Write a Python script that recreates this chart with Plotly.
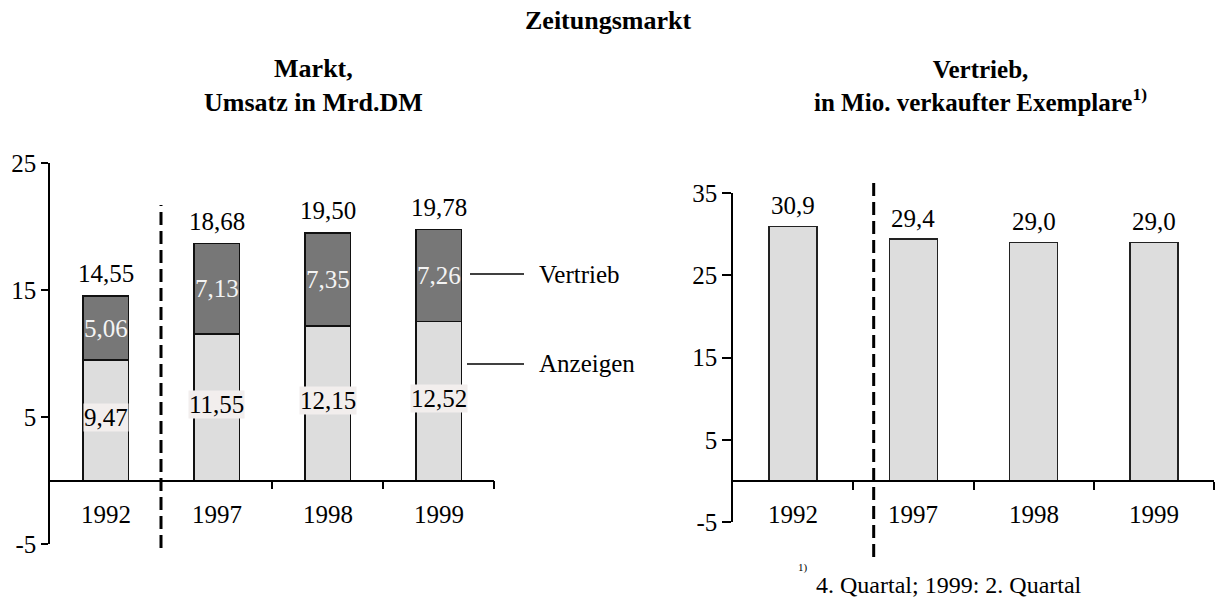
import plotly.graph_objects as go

# ---------------- data ----------------
years = ["1992", "1997", "1998", "1999"]
anzeigen = [9.47, 11.55, 12.15, 12.52]
vertrieb_umsatz = [5.06, 7.13, 7.35, 7.26]
umsatz_total = [14.55, 18.68, 19.50, 19.78]
exemplare = [30.9, 29.4, 29.0, 29.0]

left_ticks = [-5, 5, 15, 25]
right_ticks = [-5, 5, 15, 25, 35]
left_range = [-5, 25]
right_range = [-5, 35]

# ---------------- layout helpers ----------------
W, H = 1216, 601
FONT = "Liberation Serif, Times New Roman, serif"


def px_x(p):
    return p / W


def px_y(p):
    return 1 - p / H


L_xdom = [px_x(50), px_x(494)]
L_ydom = [px_y(544), px_y(163)]
R_xdom = [px_x(733), px_x(1214)]
R_ydom = [px_y(522), px_y(193)]


def zero_pos(dom, rng):
    return dom[0] + (0 - rng[0]) / (rng[1] - rng[0]) * (dom[1] - dom[0])


def de(v, nd):
    return f"{v:.{nd}f}".replace(".", ",")


idx = list(range(len(years)))
LIGHT = "#dddddd"
DARK = "#777777"

fig = go.Figure()
fig.add_trace(go.Bar(x=idx, y=anzeigen, xaxis="x", yaxis="y", width=0.41,
                     marker=dict(color=LIGHT, line=dict(color="#111111", width=1.5)),
                     hoverinfo="skip", showlegend=False))
fig.add_trace(go.Bar(x=idx, y=vertrieb_umsatz, xaxis="x", yaxis="y", width=0.41,
                     marker=dict(color=DARK, line=dict(color="#111111", width=1.5)),
                     hoverinfo="skip", showlegend=False))
fig.add_trace(go.Bar(x=idx, y=exemplare, xaxis="x2", yaxis="y2", width=0.4,
                     marker=dict(color=LIGHT, line=dict(color="#222222", width=1.5)),
                     hoverinfo="skip", showlegend=False))

tickfont = dict(family=FONT, size=25, color="black")
bounds = [i + 0.5 for i in idx]

axis_common_x = dict(range=[-0.5, len(years) - 0.5], anchor="free", showline=True,
                     linecolor="black", linewidth=1.5, ticks="outside", tickvals=bounds,
                     ticklen=8, tickwidth=1.5, tickcolor="black", showticklabels=False,
                     showgrid=False, zeroline=False, fixedrange=True, automargin=False)

axis_common_y = dict(showline=True, linecolor="black", linewidth=1.5, ticks="outside",
                     tickwidth=1.5, tickcolor="black", tickfont=tickfont,
                     showgrid=False, zeroline=False, fixedrange=True, automargin=False)

fig.update_layout(
    width=W, height=H,
    margin=dict(l=0, r=0, t=0, b=0, pad=0),
    paper_bgcolor="white", plot_bgcolor="rgba(0,0,0,0)",
    barmode="stack", showlegend=False,
    xaxis=dict(domain=L_xdom, position=zero_pos(L_ydom, left_range), **axis_common_x),
    yaxis=dict(domain=L_ydom, range=left_range, anchor="x", ticklen=7,
               tickvals=left_ticks, ticktext=[str(t) for t in left_ticks], **axis_common_y),
    xaxis2=dict(domain=R_xdom, position=zero_pos(R_ydom, right_range), **axis_common_x),
    yaxis2=dict(domain=R_ydom, range=right_range, anchor="x2", ticklen=9,
                tickvals=right_ticks, ticktext=[str(t) for t in right_ticks], **axis_common_y),
)

ann = []
lblfont = dict(family=FONT, size=25, color="black")

# year labels
for xr, yr in (("x", "y"), ("x2", "y2")):
    for i, yname in zip(idx, years):
        ann.append(dict(x=i, y=0, xref=xr, yref=yr, text=yname, showarrow=False,
                        yshift=-34, font=lblfont))

# left chart labels
for i in idx:
    ann.append(dict(x=i, y=umsatz_total[i], xref="x", yref="y", text=de(umsatz_total[i], 2),
                    showarrow=False, yshift=22, font=lblfont))
    ann.append(dict(x=i, y=anzeigen[i] / 2, xref="x", yref="y", text=de(anzeigen[i], 2),
                    showarrow=False, yshift=3, font=lblfont, bgcolor="#f2eeed", borderpad=0))
    ann.append(dict(x=i, y=anzeigen[i] + vertrieb_umsatz[i] / 2, xref="x", yref="y",
                    text=de(vertrieb_umsatz[i], 2), showarrow=False,
                    font=dict(family=FONT, size=25, color="#f4f4f4")))

# right chart labels
for i in idx:
    ann.append(dict(x=i, y=exemplare[i], xref="x2", yref="y2", text=de(exemplare[i], 1),
                    showarrow=False, yshift=21, font=lblfont))

# legend labels (left chart)
ann.append(dict(x=px_x(537), y=px_y(274), xref="paper", yref="paper", text="Vertrieb",
                xanchor="left", yanchor="middle", showarrow=False, font=lblfont))
ann.append(dict(x=px_x(537), y=px_y(363), xref="paper", yref="paper", text="Anzeigen",
                xanchor="left", yanchor="middle", showarrow=False, font=lblfont))

# titles
ann.append(dict(x=px_x(608), y=px_y(21), xref="paper", yref="paper",
                text="<b>Zeitungsmarkt</b>", showarrow=False,
                font=dict(family=FONT, size=26, color="black"),
                xanchor="center", yanchor="middle"))
ann.append(dict(x=px_x(313), y=px_y(86), xref="paper", yref="paper",
                text="<b>Markt,</b><br><b>Umsatz in Mrd.DM</b>", showarrow=False,
                font=dict(family=FONT, size=26, color="black"),
                xanchor="center", yanchor="middle"))
ann.append(dict(x=px_x(980), y=px_y(86), xref="paper", yref="paper",
                text="<b>Vertrieb,</b><br><b>in Mio. verkaufter Exemplare<sup>1)</sup></b>",
                showarrow=False, font=dict(family=FONT, size=25, color="black"),
                xanchor="center", yanchor="middle"))

# footnote
ann.append(dict(x=px_x(796), y=px_y(567), xref="paper", yref="paper", text="1)",
                showarrow=False, xanchor="left", yanchor="middle",
                font=dict(family=FONT, size=11, color="black")))
ann.append(dict(x=px_x(814), y=px_y(585), xref="paper", yref="paper",
                text="4. Quartal; 1999: 2. Quartal", showarrow=False,
                xanchor="left", yanchor="middle",
                font=dict(family=FONT, size=24, color="black")))

fig.update_layout(annotations=ann)

# shapes: legend lines and dashed dividers
shapes = [
    dict(type="line", xref="paper", yref="paper", x0=px_x(470), x1=px_x(524),
         y0=px_y(274), y1=px_y(274), line=dict(color="black", width=1.5)),
    dict(type="line", xref="paper", yref="paper", x0=px_x(467), x1=px_x(524),
         y0=px_y(364), y1=px_y(364), line=dict(color="black", width=1.5)),
    dict(type="line", xref="x", yref="paper", x0=0.5, x1=0.5,
         y0=px_y(548), y1=px_y(205), line=dict(color="black", width=3, dash="13px,6px")),
    dict(type="line", xref="x2", yref="paper", x0=0.67, x1=0.67,
         y0=px_y(557), y1=px_y(180), line=dict(color="black", width=3, dash="13px,6px")),
]
fig.update_layout(shapes=shapes)

fig.write_html(
    "out.html",
    config={"displayModeBar": False},
    post_script="document.body.style.margin='0px';document.body.style.overflow='hidden';",
)
